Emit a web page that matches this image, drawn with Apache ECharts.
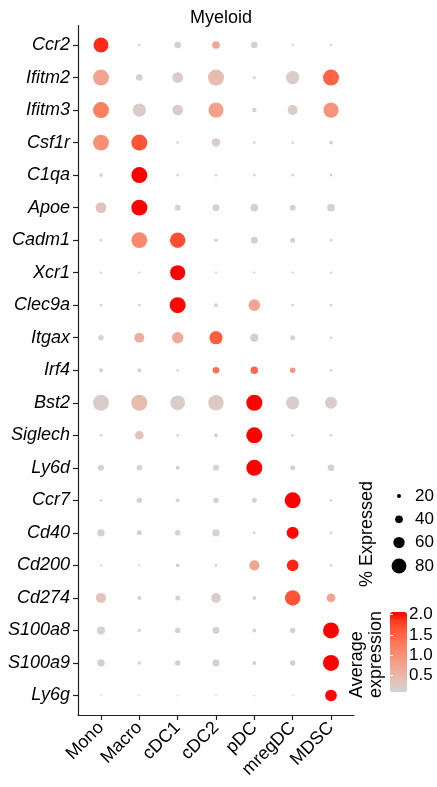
<!DOCTYPE html>
<html>
<head>
<meta charset="utf-8">
<title>Myeloid</title>
<script src="https://cdn.jsdelivr.net/npm/echarts@6/dist/echarts.min.js"></script>
<style>
  html, body { margin: 0; padding: 0; background: #fff; }
  #chart { width: 437px; height: 787px; }
</style>
</head>
<body>
<div id="chart"></div>
<script>
// Marker genes (rows, top to bottom) and myeloid cell populations (columns)
const genes = ['Ccr2', 'Ifitm2', 'Ifitm3', 'Csf1r', 'C1qa', 'Apoe', 'Cadm1', 'Xcr1', 'Clec9a', 'Itgax',
  'Irf4', 'Bst2', 'Siglech', 'Ly6d', 'Ccr7', 'Cd40', 'Cd200', 'Cd274', 'S100a8', 'S100a9', 'Ly6g'];
const cellTypes = ['Mono', 'Macro', 'cDC1', 'cDC2', 'pDC', 'mregDC', 'MDSC'];

// Percentage of cells expressing each gene (one row per gene, one column per cell type)
const pctExpressed = [
  [80, 12, 34, 40, 34, 10, 10],
  [86, 34, 57, 86, 14, 71, 86],
  [86, 71, 57, 81, 22, 53, 82],
  [85, 86, 12, 44, 12, 12, 18],
  [18, 86, 12, 12, 12, 12, 12],
  [57, 86, 30, 36, 40, 30, 40],
  [12, 85, 83, 16, 36, 25, 12],
  [10, 10, 81, 10, 10, 10, 10],
  [12, 12, 86, 19, 62, 12, 12],
  [27, 53, 60, 71, 44, 25, 12],
  [19, 19, 12, 34, 38, 27, 12],
  [86, 86, 79, 83, 86, 71, 64],
  [12, 45, 12, 19, 86, 12, 12],
  [31, 28, 19, 31, 86, 25, 34],
  [12, 27, 19, 28, 25, 86, 12],
  [38, 25, 28, 38, 12, 64, 12],
  [10, 10, 19, 12, 53, 62, 12],
  [53, 19, 25, 51, 19, 83, 45],
  [42, 16, 28, 36, 19, 27, 86],
  [38, 16, 28, 36, 19, 28, 86],
  [7, 7, 7, 7, 7, 7, 62]
];

// Average expression of each gene in each cell type
const avgExpression = [
  [1.90, 0.12, 0.15, 0.75, 0.15, 0.10, 0.10],
  [0.75, 0.15, 0.20, 0.43, 0.12, 0.20, 1.50],
  [1.20, 0.20, 0.20, 0.80, 0.12, 0.20, 0.95],
  [1.00, 1.65, 0.10, 0.20, 0.10, 0.10, 0.12],
  [0.15, 2.06, 0.10, 0.10, 0.10, 0.10, 0.10],
  [0.33, 2.06, 0.15, 0.15, 0.15, 0.15, 0.15],
  [0.10, 1.10, 1.70, 0.12, 0.15, 0.12, 0.10],
  [0.10, 0.10, 2.06, 0.10, 0.10, 0.10, 0.10],
  [0.10, 0.10, 2.03, 0.12, 0.75, 0.10, 0.10],
  [0.15, 0.60, 0.68, 1.55, 0.15, 0.12, 0.10],
  [0.12, 0.12, 0.10, 1.35, 1.45, 0.95, 0.10],
  [0.20, 0.43, 0.20, 0.25, 2.05, 0.20, 0.20],
  [0.10, 0.33, 0.10, 0.12, 2.06, 0.10, 0.10],
  [0.15, 0.15, 0.12, 0.15, 2.06, 0.12, 0.15],
  [0.10, 0.15, 0.12, 0.15, 0.12, 2.06, 0.10],
  [0.15, 0.12, 0.15, 0.15, 0.10, 2.04, 0.10],
  [0.10, 0.10, 0.12, 0.10, 0.75, 1.92, 0.10],
  [0.33, 0.12, 0.12, 0.20, 0.12, 1.65, 0.75],
  [0.15, 0.10, 0.15, 0.15, 0.12, 0.12, 2.06],
  [0.15, 0.10, 0.15, 0.15, 0.12, 0.12, 2.06],
  [0.10, 0.10, 0.10, 0.10, 0.10, 0.10, 2.04]
];

// Legend scales
const sizeLegendValues = [20, 40, 60, 80];
const colorTickValues = [0.5, 1.0, 1.5, 2.0];
const colorMin = 0.1;
const colorMax = 2.06;

const FONT = 'Liberation Sans, Arial, Helvetica, sans-serif';
const AXIS_COLOR = '#222';

// Dot diameter grows linearly with the percentage of expressing cells
function dotSize(pct) { return 0.5 + 0.18 * pct; }

// Grey-to-red ramp (interpolated in Lab space)
const rampColors = ['#D3D3D3', '#E2C2BA', '#EDB0A0', '#F59D87', '#FA8A6E', '#FE7456', '#FF5D3D', '#FF4023', '#FF0000'];

const dots = [];
genes.forEach((g, i) => {
  cellTypes.forEach((c, j) => {
    dots.push([j, i, pctExpressed[i][j], avgExpression[i][j]]);
  });
});

const geneIdx = genes.map((_, i) => i);
const cellIdx = cellTypes.map((_, i) => i);

const chart = echarts.init(document.getElementById('chart'), null, { renderer: 'canvas' });

const option = {
  animation: false,
  backgroundColor: '#fff',
  title: {
    text: 'Myeloid',
    left: 216,
    textAlign: 'center',
    top: 4,
    textStyle: { fontSize: 18, fontWeight: 'normal', color: '#000', fontFamily: FONT }
  },
  grid: [
    { left: 78, right: 83, top: 25.5, bottom: 72 },
    { left: 390, top: 612, width: 17, height: 80 },
    { left: 392, top: 484.3, width: 14, height: 93.3 }
  ],
  xAxis: [
    {
      gridIndex: 0, type: 'value', min: -0.6, max: 6.6,
      axisLine: { show: true, onZero: false, lineStyle: { color: AXIS_COLOR, width: 1.2 } },
      axisTick: { show: true, length: 5, customValues: cellIdx, lineStyle: { color: AXIS_COLOR, width: 1.2 } },
      axisLabel: {
        customValues: cellIdx,
        formatter: v => cellTypes[Math.round(v)],
        rotate: 45, margin: 10, fontSize: 18, color: '#000', fontFamily: FONT
      },
      splitLine: { show: false }
    },
    { gridIndex: 1, type: 'value', min: 0, max: 1, show: false },
    { gridIndex: 2, type: 'value', min: -1, max: 1, show: false }
  ],
  yAxis: [
    {
      gridIndex: 0, type: 'value', inverse: true, min: -0.6, max: 20.6,
      axisLine: { show: true, onZero: false, lineStyle: { color: AXIS_COLOR, width: 1.2 } },
      axisTick: { show: true, length: 5, customValues: geneIdx, lineStyle: { color: AXIS_COLOR, width: 1.2 } },
      axisLabel: {
        customValues: geneIdx,
        formatter: v => genes[Math.round(v)],
        margin: 8, fontSize: 18, fontStyle: 'italic', color: '#000', fontFamily: FONT
      },
      splitLine: { show: false }
    },
    {
      // colour bar tick labels (right side)
      gridIndex: 1, type: 'value', min: colorMin, max: colorMax, position: 'right', z: 6,
      axisLine: { show: false },
      axisTick: { show: true, inside: true, length: 3, customValues: colorTickValues, lineStyle: { color: '#fff', width: 1 } },
      axisLabel: {
        customValues: colorTickValues,
        formatter: v => v.toFixed(1),
        margin: 2, fontSize: 17, color: '#000', fontFamily: FONT
      },
      splitLine: { show: false }
    },
    {
      // colour bar ticks (left side)
      gridIndex: 1, type: 'value', min: colorMin, max: colorMax, position: 'left', z: 6,
      axisLine: { show: false },
      axisTick: { show: true, inside: true, length: 3, customValues: colorTickValues, lineStyle: { color: '#fff', width: 1 } },
      axisLabel: { show: false },
      splitLine: { show: false }
    },
    {
      // size legend labels
      gridIndex: 2, type: 'value', min: 10, max: 90, inverse: true, position: 'right',
      axisLine: { show: false },
      axisTick: { show: false },
      axisLabel: {
        customValues: sizeLegendValues,
        margin: 9, fontSize: 17, color: '#000', fontFamily: FONT
      },
      splitLine: { show: false }
    }
  ],
  visualMap: {
    type: 'continuous',
    seriesIndex: 0,
    dimension: 3,
    min: colorMin,
    max: colorMax,
    calculable: false,
    text: null,
    left: 390,
    top: 612,
    padding: 0,
    itemWidth: 17,
    itemHeight: 80,
    inRange: { color: rampColors }
  },
  series: [
    {
      type: 'scatter',
      xAxisIndex: 0,
      yAxisIndex: 0,
      data: dots,
      symbolSize: v => dotSize(v[2]),
      itemStyle: { opacity: 1, borderWidth: 0 }
    },
    {
      type: 'scatter',
      xAxisIndex: 2,
      yAxisIndex: 3,
      data: sizeLegendValues.map(v => [0, v]),
      symbolSize: v => dotSize(v[1]),
      itemStyle: { color: '#000', opacity: 1 }
    }
  ],
  graphic: [
    {
      type: 'text', x: 367, y: 587, rotation: Math.PI / 2,
      style: { text: '% Expressed', fontSize: 18, fill: '#000', fontFamily: FONT, align: 'left', verticalAlign: 'middle' }
    },
    {
      type: 'text', x: 357, y: 698, rotation: Math.PI / 2,
      style: { text: 'Average', fontSize: 18, fill: '#000', fontFamily: FONT, align: 'left', verticalAlign: 'middle' }
    },
    {
      type: 'text', x: 376, y: 698, rotation: Math.PI / 2,
      style: { text: 'expression', fontSize: 18, fill: '#000', fontFamily: FONT, align: 'left', verticalAlign: 'middle' }
    }
  ]
};

chart.setOption(option);
</script>
</body>
</html>
